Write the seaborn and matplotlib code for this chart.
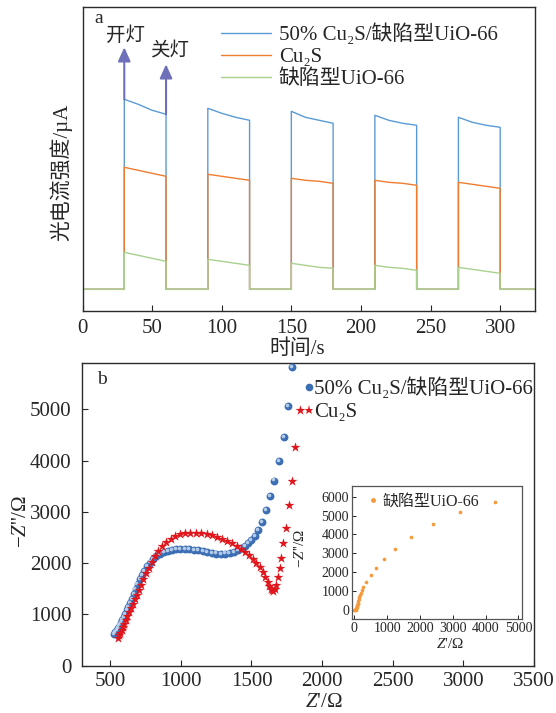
import numpy as np
import pandas as pd
import matplotlib
matplotlib.use("Agg")
import matplotlib.pyplot as plt
import seaborn as sns
from matplotlib.lines import Line2D
from matplotlib.transforms import offset_copy

# ---------------- data: photocurrent response (panel a) ----------------
light_on_times = [30, 90, 150, 210, 270]      # s, lamp switched on
sample_offsets = [0, 10, 20, 30]              # s after switch-on
t_end = 325

series_names = ["50% Cu₂S/缺陷型UiO-66", "Cu₂S", "缺陷型UiO-66"]
composite_on = [[1.90, 1.85, 1.79, 1.75],
                [1.81, 1.76, 1.72, 1.69],
                [1.78, 1.72, 1.69, 1.66],
                [1.74, 1.69, 1.66, 1.64],
                [1.72, 1.67, 1.64, 1.62]]
cu2s_on = [[1.22, 1.19, 1.16, 1.13],
           [1.15, 1.13, 1.11, 1.09],
           [1.11, 1.09, 1.08, 1.06],
           [1.09, 1.07, 1.06, 1.04],
           [1.07, 1.05, 1.03, 1.01]]
uio_on = [[0.37, 0.34, 0.31, 0.28],
          [0.30, 0.28, 0.26, 0.24],
          [0.26, 0.24, 0.22, 0.21],
          [0.24, 0.22, 0.21, 0.19],
          [0.22, 0.20, 0.18, 0.16]]
dark_current = 0.0

# ---------------- data: Nyquist plots (panel b) ----------------
comp_zre = [528, 537, 546, 556, 566, 576, 586, 596, 607, 618,
            629, 641, 653, 666, 679, 693, 708, 724, 741, 760,
            780, 802, 826, 852, 879, 907, 936, 966, 997, 1028,
            1060, 1092, 1124, 1156, 1188, 1220, 1252, 1284, 1315, 1345,
            1374, 1402, 1428, 1453, 1477, 1500, 1524, 1549, 1574, 1600,
            1630, 1662, 1694, 1728, 1760, 1785]
comp_zim = [620, 650, 690, 735, 785, 830, 880, 940, 1010, 1080,
            1140, 1220, 1300, 1400, 1500, 1590, 1680, 1770, 1850, 1940,
            2010, 2070, 2130, 2180, 2215, 2240, 2258, 2268, 2275, 2276,
            2272, 2262, 2248, 2232, 2215, 2198, 2185, 2180, 2185, 2200,
            2222, 2250, 2285, 2330, 2385, 2450, 2530, 2640, 2800, 3040,
            3300, 3610, 3990, 4460, 5070, 5823]

cu2s_zre = [553, 562, 571, 580, 590, 600, 611, 622, 634, 646,
            659, 672, 686, 701, 717, 734, 752, 771, 792, 815,
            840, 867, 896, 927, 960, 995, 1031, 1068, 1106, 1144,
            1182, 1220, 1257, 1293, 1328, 1362, 1395, 1426, 1456, 1484,
            1510, 1535, 1558, 1579, 1598, 1614, 1627, 1637, 1646, 1655,
            1665, 1677, 1690, 1700, 1712, 1726, 1744, 1765, 1786, 1810,
            1840]
cu2s_zim = [545, 590, 640, 695, 755, 820, 890, 960, 1040, 1120,
            1200, 1290, 1380, 1480, 1580, 1690, 1800, 1910, 2020, 2130,
            2240, 2340, 2410, 2460, 2520, 2560, 2580, 2590, 2588, 2580,
            2565, 2540, 2510, 2470, 2430, 2385, 2330, 2270, 2210, 2150,
            2080, 2000, 1920, 1830, 1730, 1630, 1545, 1490, 1465, 1462,
            1490, 1580, 1730, 1900, 2100, 2390, 2690, 3125, 3600, 4260,
            4990]

uio_zre = [0, 20, 35, 48, 55, 62, 70, 80, 90, 100, 112, 125, 140, 155,
           175, 200, 230, 275, 355, 504, 674, 904, 1252, 1731, 2401,
           3218, 4296]
uio_zim = [0, 5, 15, 40, 70, 105, 150, 200, 255, 320, 390, 470, 560, 660,
           780, 900, 1050, 1233, 1481, 1834, 2222, 2698, 3243, 3862, 4534,
           5169, 5698]
uio_label = "缺陷型UiO-66"

# ---------------- style ----------------
sns.set_style("ticks")
plt.rcParams["font.family"] = ["Liberation Serif", "Noto Sans CJK SC", "DejaVu Sans"]
plt.rcParams["mathtext.fontset"] = "custom"
plt.rcParams["mathtext.rm"] = "Liberation Serif"
plt.rcParams["mathtext.it"] = "Liberation Serif:italic"
plt.rcParams["axes.edgecolor"] = "#2b2b2b"
plt.rcParams["axes.linewidth"] = 1.0

FS = 15
c_comp, c_cu2s, c_uio = "#5b9bd5", "#ed7d31", "#a9d18e"
c_arrow = "#6e70b9"
c_ball, c_star, c_dot = "#3c6eb4", "#e0161d", "#f59a3a"

fig = plt.figure(figsize=(5.56, 7.13), dpi=100)
ax_a = fig.add_axes([0.1484, 0.5642, 0.8138, 0.4256])
ax_b = fig.add_axes([0.1475, 0.0666, 0.8129, 0.4239])
ax_in = fig.add_axes([0.6326, 0.1318, 0.3058, 0.1870])

# ---------------- panel a ----------------
def square_wave(on_values):
    t, i = [0.0], [dark_current]
    for t0, vals in zip(light_on_times, on_values):
        t += [t0] + [t0 + dt for dt in sample_offsets] + [t0 + sample_offsets[-1]]
        i += [dark_current] + list(vals) + [dark_current]
    t.append(t_end)
    i.append(dark_current)
    return t, i

frames = []
for name, vals in zip(series_names, [composite_on, cu2s_on, uio_on]):
    t, i = square_wave(vals)
    frames.append(pd.DataFrame({"t": t, "I": i, "sample": name}))
df_a = pd.concat(frames, ignore_index=True)

sns.lineplot(data=df_a, x="t", y="I", hue="sample", hue_order=series_names,
             palette=[c_comp, c_cu2s, c_uio], sort=False, estimator=None,
             lw=1.0, legend=False, ax=ax_a)

ax_a.set_xlim(0, 325)
ax_a.set_ylim(-0.214, 2.82)
ax_a.set_xticks(range(0, 301, 50))
ax_a.set_yticks([])
ax_a.tick_params(axis="x", direction="in", length=4.3, width=0.8,
                 labelsize=FS, pad=6)
ax_a.set_xlabel("时间/s", fontsize=FS)
ax_a.xaxis.set_label_coords(0.474, -0.093)
ax_a.set_ylabel("光电流强度/µA", fontsize=FS)
ax_a.yaxis.set_label_coords(-0.023, 0.455)

# lamp on/off markers
t_on, t_off = light_on_times[0], light_on_times[0] + sample_offsets[-1]
for t_mark, y0, y1 in [(t_on, composite_on[0][0], 2.42),
                       (t_off, composite_on[0][-1], 2.25)]:
    ax_a.annotate("", xy=(t_mark, y1), xytext=(t_mark, y0),
                  arrowprops=dict(arrowstyle="-|>,head_length=0.6,head_width=0.27",
                                  color=c_arrow, lw=1.5, shrinkA=0, shrinkB=0,
                                  mutation_scale=14))
ax_a.text(31.2, 2.54, "开灯", fontsize=14, ha="center", va="center")
ax_a.text(62.8, 2.38, "关灯", fontsize=14, ha="center", va="center")
ax_a.text(0.036, 0.964, "a", transform=ax_a.transAxes, fontsize=14,
          ha="center", va="center")

handles_a = [Line2D([], [], color=c, lw=1.0) for c in (c_comp, c_cu2s, c_uio)]
ax_a.legend(handles_a, series_names, loc="upper left",
            bbox_to_anchor=(0.307, 0.947), frameon=False, fontsize=FS,
            handlelength=2.4, handletextpad=0.35, labelspacing=0.12,
            borderpad=0, borderaxespad=0)

# ---------------- panel b ----------------
sns.scatterplot(x=comp_zre, y=comp_zim, ax=ax_b, color=c_ball, s=32,
                marker="o", linewidth=0, legend=False, zorder=3)
hl = offset_copy(ax_b.transData, fig=fig, x=-0.8, y=0.8, units="points")
sns.scatterplot(x=comp_zre, y=comp_zim, ax=ax_b, color="#c9dcf2", s=7,
                marker="o", linewidth=0, legend=False, transform=hl,
                alpha=0.85, zorder=3)
sns.scatterplot(x=cu2s_zre, y=cu2s_zim, ax=ax_b, color=c_star, s=55,
                marker="*", linewidth=0, legend=False, zorder=4)

ax_b.set_xlim(300, 3500)
ax_b.set_ylim(0, 5900)
ax_b.set_xticks(range(500, 3501, 500))
ax_b.set_yticks(range(0, 5001, 1000))
ax_b.tick_params(direction="in", length=4.3, width=0.8, labelsize=FS)
ax_b.tick_params(axis="x", pad=5)
ax_b.tick_params(axis="y", pad=7.5)
ax_b.set_xlabel("$Z$'/Ω", fontsize=FS)
ax_b.xaxis.set_label_coords(0.534, -0.09)
ax_b.set_ylabel("−$Z$''/Ω", fontsize=FS)
ax_b.yaxis.set_label_coords(-0.112, 0.476)
ax_b.text(0.044, 0.945, "b", transform=ax_b.transAxes, fontsize=14,
          ha="center", va="center")

handles_b = [Line2D([], [], ls="", marker="o", color=c_ball, markersize=4.5),
             Line2D([], [], ls="", marker="*", color=c_star, markersize=6.5,
                    markeredgewidth=0)]
ax_b.legend(handles_b, ["50% Cu₂S/缺陷型UiO-66", "Cu₂S"], loc="upper left",
            bbox_to_anchor=(0.498, 0.952), frameon=False, fontsize=FS,
            handlelength=0.2, handletextpad=0.12, labelspacing=0.15,
            borderpad=0, borderaxespad=0)

# ---------------- inset ----------------
sns.scatterplot(x=uio_zre, y=uio_zim, ax=ax_in, color=c_dot, s=7,
                marker="o", linewidth=0, legend=False)
ax_in.set_xlim(-80, 5100)
ax_in.set_ylim(-480, 6580)
ax_in.set_xticks(range(0, 5001, 1000))
ax_in.set_yticks(range(0, 6001, 1000))
ax_in.tick_params(direction="in", length=3, width=0.7, labelsize=10, pad=2)
for sp in ax_in.spines.values():
    sp.set_color("#555555")
    sp.set_linewidth(0.9)
ax_in.set_xlabel("$Z$'/Ω", fontsize=11)
ax_in.xaxis.set_label_coords(0.578, -0.135)
ax_in.set_ylabel("−$Z$''/Ω", fontsize=11)
ax_in.yaxis.set_label_coords(-0.263, 0.533)
ax_in.legend([Line2D([], [], ls="", marker="o", color=c_dot, markersize=2.5)],
             [uio_label], loc="upper left", bbox_to_anchor=(0.096, 0.938),
             frameon=False, fontsize=11.5, handlelength=0.6,
             handletextpad=0.3, borderpad=0, borderaxespad=0)

fig.savefig("out.png", dpi=100)
